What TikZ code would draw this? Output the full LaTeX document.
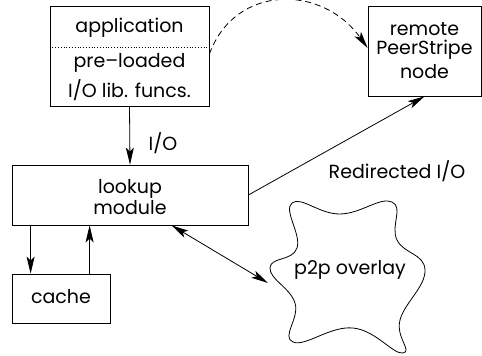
\documentclass[tikz,border=0pt]{standalone}
\usepackage{fontspec}
\setmainfont{Poppins}
\usetikzlibrary{arrows.meta}
\begin{document}
\begin{tikzpicture}[x=1pt,y=-1pt,
  box/.style={draw,line width=0.8pt,inner sep=0pt},
  txt/.style={font=\fontsize{19}{22}\selectfont,inner sep=0pt,align=center},
  arr/.style={line width=0.8pt,-{Stealth[length=17pt,width=8pt,inset=4pt]}},
  darr/.style={line width=0.8pt,{Stealth[length=17pt,width=8pt,inset=4pt]}-{Stealth[length=17pt,width=8pt,inset=4pt]}}]
\useasboundingbox (0,0) rectangle (482,356);
% boxes
\node[box,minimum width=159pt,minimum height=100pt] (app) at (129.5,56) {};
\node[box,minimum width=113pt,minimum height=90pt] (remote) at (424.5,51) {};
\node[box,minimum width=236pt,minimum height=60pt] (lookup) at (130,195) {};
\node[box,minimum width=98pt,minimum height=49pt] (cache) at (61,298.5) {};
% texts
\node[txt] (t1) at (129.5,28) {application};
\node[txt] (t2) at (129.5,63) {pre--loaded};
\node[txt] (t3) at (129.5,90) {I/O lib. funcs.};
\draw[dotted,line width=0.8pt] (app.west |- 0,47) -- (app.east |- 0,47);
\node[txt] (t4) at (424.5,29) {remote};
\node[txt] (t5) at (424.5,50) {PeerStripe};
\node[txt] (t6) at (424.5,72) {node};
\node[txt] (t7) at (130,189) {lookup};
\node[txt] (t8) at (130,208) {module};
\node[txt] (t9) at (61,297) {cache};
% cloud
\draw[line width=0.8pt] plot[smooth cycle,tension=0.75] coordinates {
 (292,203) (340,214) (392,202) (397,240) (425,270) (400,320)
 (403,353) (353,328) (293,342) (295,303) (270,268) (297,248)};
\node[txt] (t10) at (350,270) {p2p overlay};
\coordinate (ovl) at (268,283);
% connectors
\draw[arr] (app.south) -- (lookup.north);
\node[txt] (lio) at (163,143) {I/O};
\draw[arr] (lookup.east) -- (remote.south);
\node[txt] (lred) at (397,171) {Redirected I/O};
\draw[arr] ([xshift=19pt]lookup.south west) -- ([xshift=19pt]cache.north west);
\draw[arr] ([xshift=78pt]cache.north west) -- ([xshift=78pt]lookup.south west);
\draw[darr] ([xshift=160pt]lookup.south west) -- (ovl);
\draw[arr,dash pattern=on 6pt off 4pt] ([yshift=2pt]app.east) .. controls (235,-16) and (322,-16) .. ([yshift=3pt]remote.west);
\end{tikzpicture}
\end{document}
